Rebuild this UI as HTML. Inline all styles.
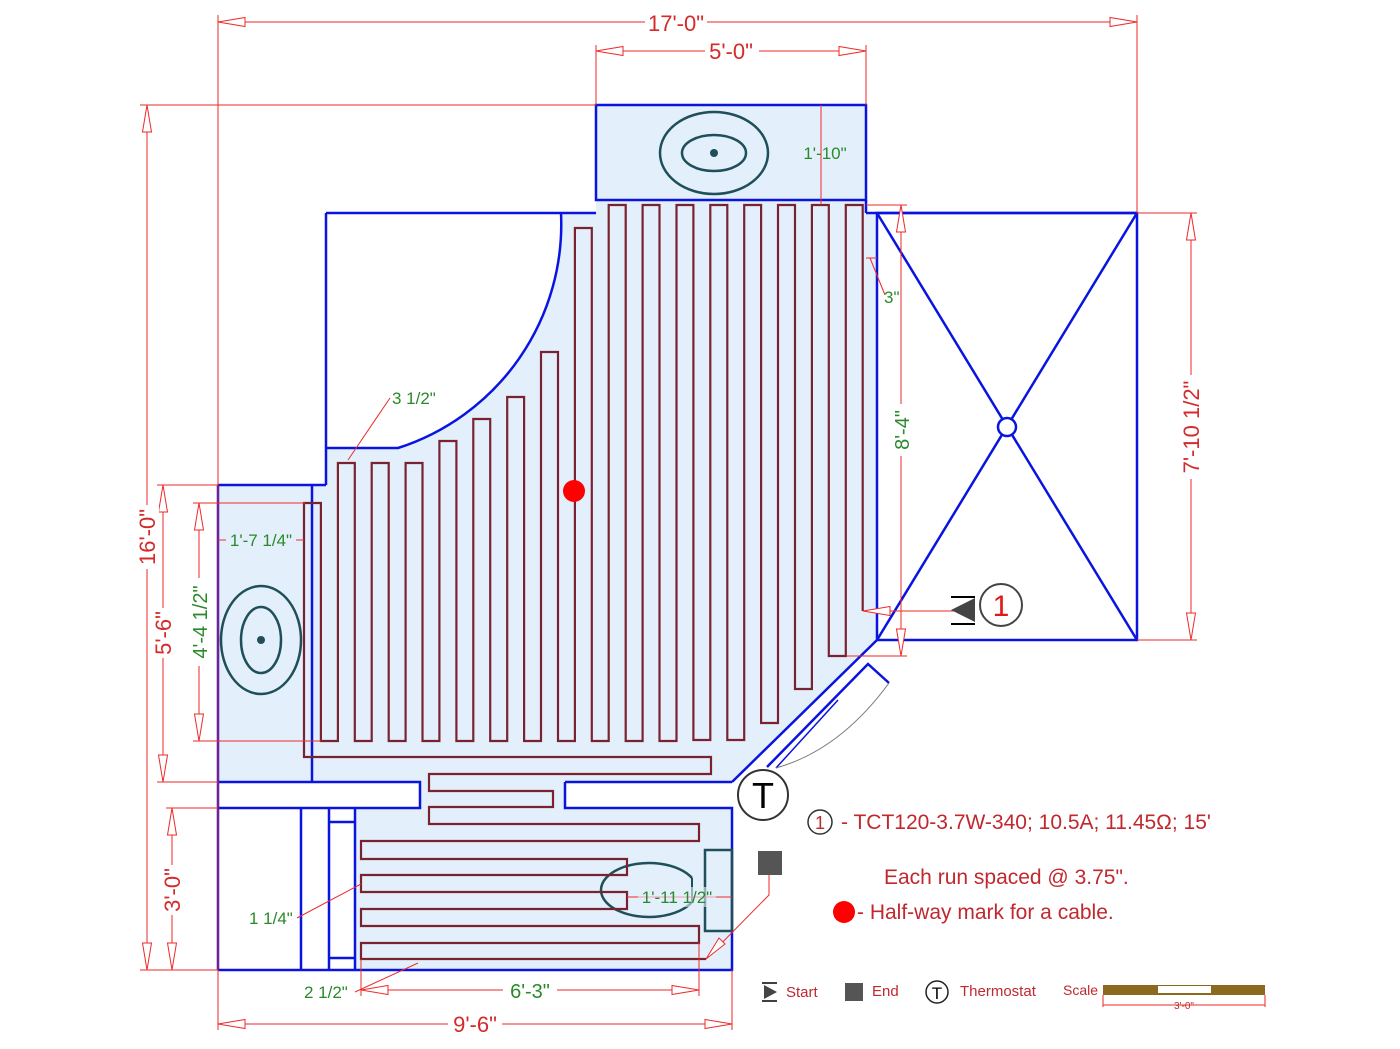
<!DOCTYPE html>
<html><head><meta charset="utf-8"><style>
html,body{margin:0;padding:0;background:#fff;}
svg{display:block;font-family:"Liberation Sans",sans-serif;}
.b{stroke:#0a14e0;stroke-width:2.5;fill:none;}
.r{stroke:#ee2a2a;stroke-width:1;fill:none;}
.a{stroke:#ee2a2a;stroke-width:1;fill:#fff;}
.c{stroke:#7a2330;stroke-width:2.2;fill:none;}
.rt{fill:#d42a2a;font-size:22px;}
.gt{fill:#2a8a2a;font-size:20px;}
.gs{fill:#2a8a2a;font-size:17px;}
.lt{fill:#c0282e;}
</style></head><body>
<svg width="1400" height="1049" viewBox="0 0 1400 1049" xmlns="http://www.w3.org/2000/svg">
<path d="M596,105 H866 V213 H877 V640 L732,782 H565 V808 H732 V970 H355 V808 H420 V782 H218 V485 H326 V448 H398 A235,235 0 0 0 561,213 H596 Z" fill="#e4effc"/>
<rect x="596" y="105" width="270" height="95" class="b"/>
<path class="b" d="M326,213 H596 M866,213 H1137 M866,200 V213 M326,213 V485 M326,448 H398 A235,235 0 0 0 561,213 M218,485 H326 M218,485 V970 M312,485 V782 M218,782 H420 V808 H218 M565,782 H732 M565,782 V808 H732 V970 H218 M301,808 V970 M329,808 V970 M355,808 V970 M329,822 H355 M329,958 H355 M732,782 L877,640"/>
<rect x="877" y="213" width="260" height="427" class="b"/>
<path class="b" d="M877,213 L1137,640 M1137,213 L877,640"/>
<circle cx="1007" cy="427" r="9" fill="#fff" stroke="#0a14e0" stroke-width="2.5"/>
<path class="b" d="M767,767 L868,664 L889,683"/>
<path d="M776,768 L838,700" stroke="#0a14e0" stroke-width="1.5" fill="none"/>
<path d="M889,683 Q840,750 776,768" stroke="#777" stroke-width="1" fill="none"/>
<g stroke="#1f4f58" stroke-width="2.5" fill="none">
<ellipse cx="714" cy="153" rx="54" ry="41"/>
<ellipse cx="714" cy="153" rx="32" ry="18"/>
<ellipse cx="261" cy="640" rx="40" ry="54"/>
<ellipse cx="261" cy="640" rx="20" ry="33"/>
<path d="M692,878 A48,27 0 1 0 692,902"/>
<path d="M692,878 V902" stroke-width="2"/>
<rect x="705" y="850" width="27" height="81"/>
</g>
<circle cx="714" cy="153" r="4" fill="#1f4f58"/>
<circle cx="261" cy="640" r="4" fill="#1f4f58"/>
<path class="c" d="M862.7,611 V205 H845.8 V656 H828.8 V205 H811.9 V689 H795 V205 H778 V723 H761.1 V205 H744.2 V740 H727.3 V205 H710.3 V740 H693.4 V205 H676.5 V741 H659.5 V205 H642.6 V741 H625.7 V205 H608.7 V741 H591.8 V228 H574.9 V741 H558 V352 H541 V741 H524.1 V397 H507.2 V741 H490.2 V419 H473.3 V741 H456.4 V441 H439.4 V741 H422.5 V463 H405.6 V741 H388.7 V463 H371.7 V741 H354.8 V463 H337.9 V741 H320.9 V503 H304 V757 H711 V774 H429 V791 H553 V807 H429 V824 H699 V841 H361 V859 H627 V875 H361 V892 H627 V909 H361 V926 H699 V943 H361 V959 H706"/>
<circle cx="574" cy="491" r="11" fill="#f00"/>
<path class="r" d="M218,22 H1137 M218,15 V970 M1137,15 V213 M596,51 H866 M596,45 V105 M866,45 V105 M140,105 H596 M147,105 V970 M140,970 H218 M157,485 H218 M163,485 V782 M157,782 H218 M166,808 H218 M172,808 V970 M193,503 H305 M199,503 V741 M193,741 H321 M218,540 H304 M1137,213 H1197 M1191,213 V640 M1137,640 H1197 M866,205 H907 M901,205 V656 M847,656 H907 M821,105 V205 M866,258 H877 M870,258 L885,295 M348,460 L390,398 M361,959 V996 M699,943 V996 M361,990 H699 M218,970 V1030 M732,970 V1030 M218,1024 H732 M418,963 L355,992 M361,884 L297,918 M627,897 H732 M863,611 H963 M706,959 L769,895 V874"/>
<g class="a">
<polygon points="218,22 245,17.5 245,26.5"/><polygon points="1137,22 1110,17.5 1110,26.5"/>
<polygon points="596,51 623,46.5 623,55.5"/><polygon points="866,51 839,46.5 839,55.5"/>
<polygon points="147,105 142.5,132 151.5,132"/><polygon points="147,970 142.5,943 151.5,943"/>
<polygon points="163,485 158.5,512 167.5,512"/><polygon points="163,782 158.5,755 167.5,755"/>
<polygon points="172,808 167.5,835 176.5,835"/><polygon points="172,970 167.5,943 176.5,943"/>
<polygon points="199,503 194.5,530 203.5,530"/><polygon points="199,741 194.5,714 203.5,714"/>
<polygon points="1191,213 1186.5,240 1195.5,240"/><polygon points="1191,640 1186.5,613 1195.5,613"/>
<polygon points="901,205 896.5,232 905.5,232"/><polygon points="901,656 896.5,629 905.5,629"/>
<polygon points="361,990 388,985.5 388,994.5"/><polygon points="699,990 672,985.5 672,994.5"/>
<polygon points="218,1024 245,1019.5 245,1028.5"/><polygon points="732,1024 705,1019.5 705,1028.5"/>
<polygon points="863,611 890,606.5 890,615.5"/>
<polygon points="706,959 719,938 725,944"/>
</g>
<g text-anchor="middle">
<rect x="645" y="10" width="62" height="24" fill="#fff"/><text class="rt" x="676" y="31">17'-0"</text>
<rect x="705" y="39" width="54" height="24" fill="#fff"/><text class="rt" x="731" y="59">5'-0"</text>
<rect x="135" y="505" width="24" height="64" fill="#fff"/><text class="rt" transform="translate(155,537) rotate(-90)">16'-0"</text>
<rect x="151" y="608" width="24" height="50" fill="#fff"/><text class="rt" transform="translate(171,633) rotate(-90)">5'-6"</text>
<rect x="160" y="865" width="24" height="50" fill="#fff"/><text class="rt" transform="translate(180,890) rotate(-90)">3'-0"</text>
<rect x="187" y="578" width="24" height="88" fill="#fff"/><text class="gt" transform="translate(207,622) rotate(-90)">4'-4 1/2"</text>
<rect x="1179" y="375" width="24" height="104" fill="#fff"/><text class="rt" transform="translate(1199,427) rotate(-90)">7'-10 1/2"</text>
<rect x="889" y="404" width="24" height="52" fill="#fff"/><text class="gt" transform="translate(909,430) rotate(-90)">8'-4"</text>
<rect x="503" y="978" width="54" height="24" fill="#fff"/><text class="gt" x="530" y="998">6'-3"</text>
<rect x="448" y="1012" width="54" height="24" fill="#fff"/><text class="rt" x="475" y="1032">9'-6"</text>
<rect x="226" y="530" width="70" height="20" fill="#e4effc"/><text class="gs" x="261" y="546">1'-7 1/4"</text>
<text class="gs" x="825" y="159">1'-10"</text>
<rect x="638" y="887" width="78" height="20" fill="#e4effc" opacity="0.6"/><text class="gs" x="677" y="903">1'-11 1/2"</text>
</g>
<text class="gs" x="884" y="303">3"</text>
<text class="gs" x="392" y="404">3 1/2"</text>
<text class="gs" x="249" y="924">1 1/4"</text>
<text class="gs" x="304" y="998">2 1/2"</text>
<path d="M951,597 H975 M951,624 H975" stroke="#000" stroke-width="2"/>
<polygon points="951,610 975,598 975,622" fill="#444"/>
<circle cx="1001" cy="605" r="21" fill="#fff" stroke="#444" stroke-width="2"/>
<text x="1001" y="616" text-anchor="middle" font-size="30" fill="#e01818">1</text>
<circle cx="763" cy="795" r="25" fill="#fff" stroke="#333" stroke-width="2"/>
<text x="763" y="808" text-anchor="middle" font-size="36" fill="#000">T</text>
<rect x="758" y="851" width="24" height="24" fill="#555"/>
<circle cx="820" cy="822" r="12" fill="none" stroke="#333" stroke-width="1.5"/>
<text x="820" y="829" text-anchor="middle" font-size="18" class="lt">1</text>
<text x="841" y="829" font-size="21" class="lt">- TCT120-3.7W-340; 10.5A; 11.45Ω; 15'</text>
<text x="884" y="884" font-size="21" class="lt">Each run spaced @ 3.75".</text>
<circle cx="844" cy="912" r="11" fill="#f00"/>
<text x="857" y="919" font-size="21" class="lt">- Half-way mark for a cable.</text>
<path d="M762,983 H777 M762,1001 H777" stroke="#000" stroke-width="1.5"/>
<polygon points="764,985 777,992 764,999" fill="#444"/>
<text x="786" y="997" font-size="15" class="lt">Start</text>
<rect x="845" y="983" width="18" height="18" fill="#555"/>
<text x="872" y="996" font-size="15" class="lt">End</text>
<circle cx="937" cy="992" r="11" fill="none" stroke="#222" stroke-width="1.5"/>
<text x="937" y="999" text-anchor="middle" font-size="17">T</text>
<text x="960" y="996" font-size="15" class="lt">Thermostat</text>
<text x="1063" y="995" font-size="14" class="lt">Scale</text>
<rect x="1103" y="985" width="162" height="10" fill="#8b6a20"/>
<rect x="1158" y="986" width="53" height="7" fill="#fff"/>
<path class="r" d="M1103,995 V1007 M1265,995 V1007 M1103,1005 H1265"/>
<text x="1184" y="1009" text-anchor="middle" font-size="10" fill="#c0282e">3'-0"</text>
</svg>
</body></html>
